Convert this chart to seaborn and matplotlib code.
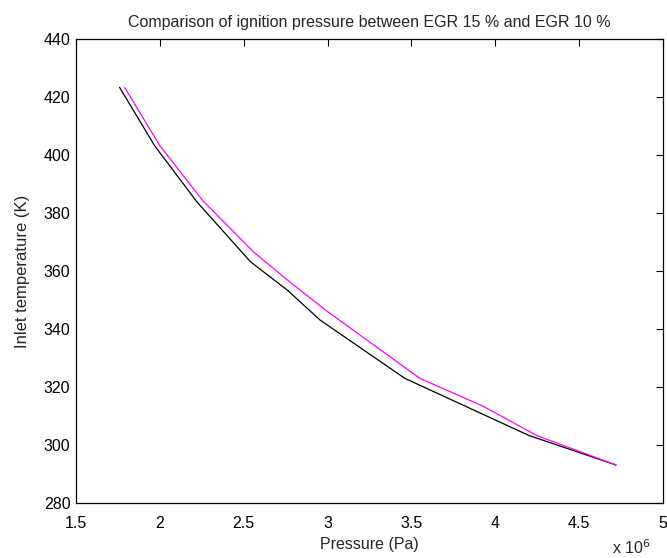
import matplotlib
matplotlib.use("Agg")
import matplotlib.pyplot as plt
import seaborn as sns
import pandas as pd
from matplotlib.ticker import FuncFormatter, FixedLocator

# Data (pressure in Pa, temperature in K)
egr15_pressure = [1.76e6, 1.97e6, 2.22e6, 2.54e6, 2.76e6, 2.955e6, 3.46e6, 4.20e6, 4.72e6]
egr15_temp = [423.3, 403.1, 383.9, 363.2, 353.4, 343.1, 323.0, 303.3, 293.1]
egr10_pressure = [1.79e6, 2.00e6, 2.26e6, 2.56e6, 2.79e6, 3.00e6, 3.55e6, 3.93e6, 4.25e6, 4.72e6]
egr10_temp = [423.3, 403.2, 384.0, 366.5, 355.5, 346.0, 323.0, 313.3, 303.2, 293.1]

x_ticks = [1.5e6, 2.0e6, 2.5e6, 3.0e6, 3.5e6, 4.0e6, 4.5e6, 5.0e6]
y_ticks = [280, 300, 320, 340, 360, 380, 400, 420, 440]

df = pd.concat([
    pd.DataFrame({"Pressure": egr15_pressure, "Temp": egr15_temp, "series": "EGR 15 %"}),
    pd.DataFrame({"Pressure": egr10_pressure, "Temp": egr10_temp, "series": "EGR 10 %"}),
], ignore_index=True)

sns.set_style("white")
plt.rcParams["font.family"] = ["Liberation Sans", "DejaVu Sans"]
plt.rcParams["font.size"] = 11.5

fig = plt.figure(figsize=(6.67, 5.58), dpi=100)
ax = fig.add_axes([76 / 667, 55 / 558, 587 / 667, 464 / 558])

sns.lineplot(data=df, x="Pressure", y="Temp", hue="series",
             palette={"EGR 15 %": "#000000", "EGR 10 %": "#FF00FF"},
             estimator=None, sort=False, linewidth=0.9, legend=False, ax=ax)

ax.set_xlim(1.5e6, 5.0e6)
ax.set_ylim(280, 440)
ax.xaxis.set_major_locator(FixedLocator(x_ticks))
ax.yaxis.set_major_locator(FixedLocator(y_ticks))
ax.xaxis.set_major_formatter(FuncFormatter(lambda v, p: f"{v/1e6:g}"))
ax.yaxis.set_major_formatter(FuncFormatter(lambda v, p: f"{v:g}"))

ax.tick_params(direction="in", length=5, width=0.8, top=True, right=True,
               labelsize=11.5, colors="black")
ax.tick_params(axis="x", pad=9)
ax.tick_params(axis="y", pad=4)
for s in ax.spines.values():
    s.set_visible(True)
    s.set_color("black")
    s.set_linewidth(0.9)

ax.set_xlabel("Pressure (Pa)", fontsize=11.5, labelpad=5)
ax.set_ylabel("Inlet temperature (K)", fontsize=12, labelpad=10)
ax.set_title("Comparison of ignition pressure between EGR 15 % and EGR 10 %",
             fontsize=11.5, pad=9)

fig.text(612 / 667, 1 - 554 / 558, "x 10$^{6}$", fontsize=11.5, ha="left", va="baseline")

fig.savefig("out.png", dpi=100, facecolor="white")
